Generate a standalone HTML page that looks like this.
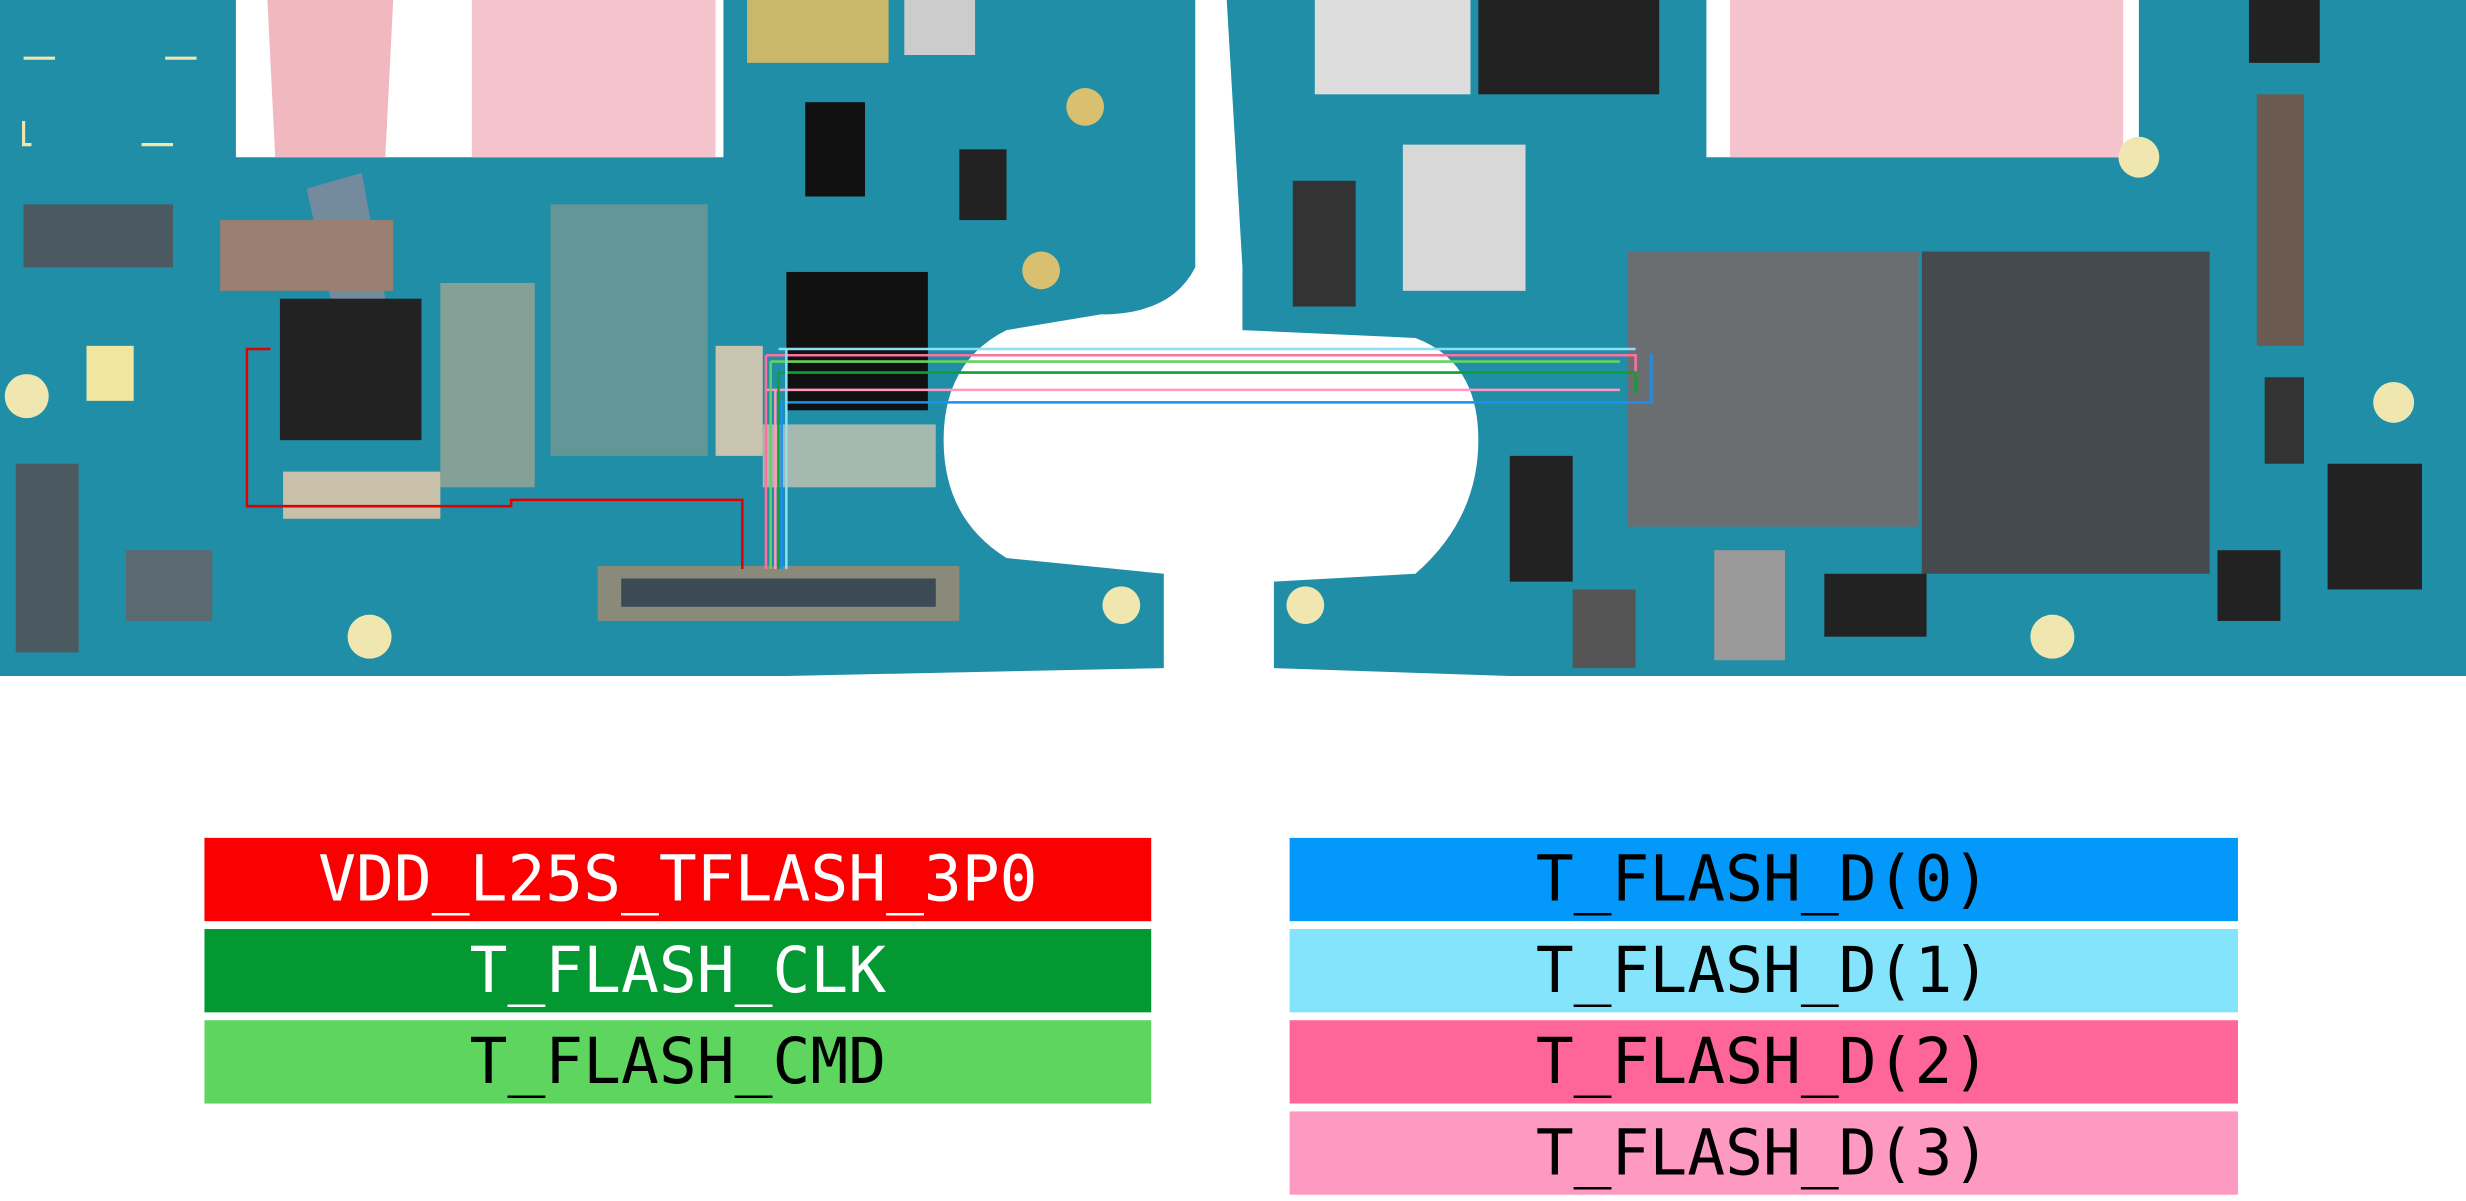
<!DOCTYPE html>
<html><head><meta charset="utf-8"><style>
html,body{margin:0;padding:0;background:#fff;width:2466px;height:1201px;overflow:hidden}
svg{display:block}
text{font-family:"DejaVu Sans Mono","Liberation Mono",monospace;font-size:40px;text-anchor:middle}
</style></head><body>
<svg width="2466" height="1201" viewBox="0 0 1568 764" preserveAspectRatio="none" xmlns="http://www.w3.org/2000/svg">
<rect width="1568" height="764" fill="#fff"/>
<!-- left board -->
<path d="M0 0 H150 V100 H460 V0 H760 V170 Q745 200 700 200 L640 210 Q600 230 600 280 Q600 330 640 355 L740 365 V425 L500 430 L0 430 Z" fill="#1f8ea6"/>
<!-- right board -->
<path d="M780 0 H1085 V100 H1360 V0 H1568 V290 L1568 430 H960 L810 425 V370 L900 365 Q940 330 940 280 Q940 230 900 215 L790 210 V170 Z" fill="#1f8ea6"/>
<!-- watermark pink -->
<path d="M170 0 H250 L245 100 H175 Z" fill="#f2b8c0"/>
<path d="M300 0 H455 V100 H300 Z" fill="#f5c3cb"/>
<path d="M1100 0 H1350 V100 H1100 Z" fill="#f5c3cb"/>
<path d="M195 120 L230 110 L260 270 L230 280 Z" fill="#c98896" opacity=".5"/>
<path d="M1235 160 L1330 160 L1330 260 L1235 260 Z" fill="#c07080" opacity=".35"/>
<!-- left board details -->
<rect x="15" y="130" width="95" height="40" fill="#4a5a60"/>
<rect x="10" y="295" width="40" height="120" fill="#4a5a60"/>
<rect x="80" y="350" width="55" height="45" fill="#5a6a70"/>
<rect x="178" y="190" width="90" height="90" fill="#222"/>
<rect x="140" y="140" width="110" height="45" fill="#9a8070"/>
<rect x="500" y="173" width="90" height="88" fill="#111"/>
<rect x="512" y="65" width="38" height="60" fill="#111"/>
<rect x="610" y="95" width="30" height="45" fill="#222"/>
<rect x="575" y="0" width="45" height="35" fill="#ccc"/>
<rect x="475" y="0" width="90" height="40" fill="#c9b86a"/>
<rect x="380" y="360" width="230" height="35" fill="#8a8a7a"/>
<rect x="395" y="368" width="200" height="18" fill="#3b4a55"/>
<rect x="180" y="300" width="100" height="30" fill="#c8c0a8"/>
<rect x="280" y="180" width="60" height="130" fill="#b0a890" opacity=".7"/>
<rect x="455" y="220" width="30" height="70" fill="#c8c4b0"/>
<rect x="485" y="270" width="110" height="40" fill="#c8c4b0" opacity=".8"/>
<rect x="55" y="220" width="30" height="35" fill="#f0e6a0"/>
<circle cx="17" cy="252" r="14" fill="#f0e6b0"/>
<circle cx="235" cy="405" r="14" fill="#f0e6b0"/>
<circle cx="713" cy="385" r="12" fill="#f0e6b0"/>
<circle cx="662" cy="172" r="12" fill="#d8c070"/>
<circle cx="690" cy="68" r="12" fill="#d8c070"/>
<rect x="350" y="130" width="100" height="160" fill="#a8a088" opacity=".5"/>
<rect x="15" y="37" width="110" height="55" fill="none" stroke="#f0e6b0" stroke-width="2" stroke-dasharray="20 70"/>
<!-- right board details -->
<rect x="836" y="0" width="99" height="60" fill="#ddd"/>
<rect x="940" y="0" width="115" height="60" fill="#222"/>
<rect x="892" y="92" width="78" height="93" fill="#d8d8d8"/>
<rect x="822" y="115" width="40" height="80" fill="#333"/>
<rect x="1035" y="160" width="185" height="175" fill="#6a6e70"/>
<rect x="1222" y="160" width="183" height="205" fill="#444a4e"/>
<rect x="1435" y="60" width="30" height="160" fill="#6b5a50"/>
<rect x="1430" y="0" width="45" height="40" fill="#222"/>
<rect x="960" y="290" width="40" height="80" fill="#222"/>
<rect x="1160" y="365" width="65" height="40" fill="#222"/>
<rect x="1480" y="295" width="60" height="80" fill="#222"/>
<rect x="1410" y="350" width="40" height="45" fill="#222"/>
<rect x="1090" y="350" width="45" height="70" fill="#999"/>
<rect x="1000" y="375" width="40" height="50" fill="#555"/>
<rect x="1440" y="240" width="25" height="55" fill="#333"/>
<circle cx="1522" cy="256" r="13" fill="#f0e6b0"/>
<circle cx="1360" cy="100" r="13" fill="#f0e6b0"/>
<circle cx="1305" cy="405" r="14" fill="#f0e6b0"/>
<circle cx="830" cy="385" r="12" fill="#f0e6b0"/>
<!-- traces -->
<g fill="none" stroke-width="1.6">
<path d="M495 222 H1040" stroke="#8ae0f5"/>
<path d="M487 226 H1040 V240" stroke="#ff70a0"/>
<path d="M490 230 H1030" stroke="#66d060"/>
<path d="M495 237 H1040 V250" stroke="#10a030"/>
<path d="M487 248 H1030" stroke="#ff99c0"/>
<path d="M497 256 H1050 V225" stroke="#1a90f0"/>
<path d="M487 226 V362" stroke="#ff70a0"/>
<path d="M490 230 V362" stroke="#66d060"/>
<path d="M495 237 V362" stroke="#10a030"/>
<path d="M493 248 V362" stroke="#ff99c0"/>
<path d="M497 256 V362" stroke="#1a90f0"/>
<path d="M500 222 V362" stroke="#8ae0f5"/>
<path d="M172 222 H157 V322 H325 V318 H472 V362" stroke="#e00000"/>
</g>
<!-- labels -->
<rect x="130" y="533" width="602" height="53" fill="#fa0000"/>
<rect x="130" y="591" width="602" height="53" fill="#039832"/>
<rect x="130" y="649" width="602" height="53" fill="#5dd55f"/>
<rect x="820" y="533" width="603" height="53" fill="#0398fa"/>
<rect x="820" y="591" width="603" height="53" fill="#84e4fc"/>
<rect x="820" y="649" width="603" height="53" fill="#fe6699"/>
<rect x="820" y="707" width="603" height="53" fill="#fe99c1"/>
<text x="431" y="573" fill="#fff">VDD_L25S_TFLASH_3P0</text>
<text x="431" y="631" fill="#fff">T_FLASH_CLK</text>
<text x="431" y="689" fill="#000">T_FLASH_CMD</text>
<text x="1121" y="573" fill="#000">T_FLASH_D(0)</text>
<text x="1121" y="631" fill="#000">T_FLASH_D(1)</text>
<text x="1121" y="689" fill="#000">T_FLASH_D(2)</text>
<text x="1121" y="747" fill="#000">T_FLASH_D(3)</text>
</svg>
</body></html>
